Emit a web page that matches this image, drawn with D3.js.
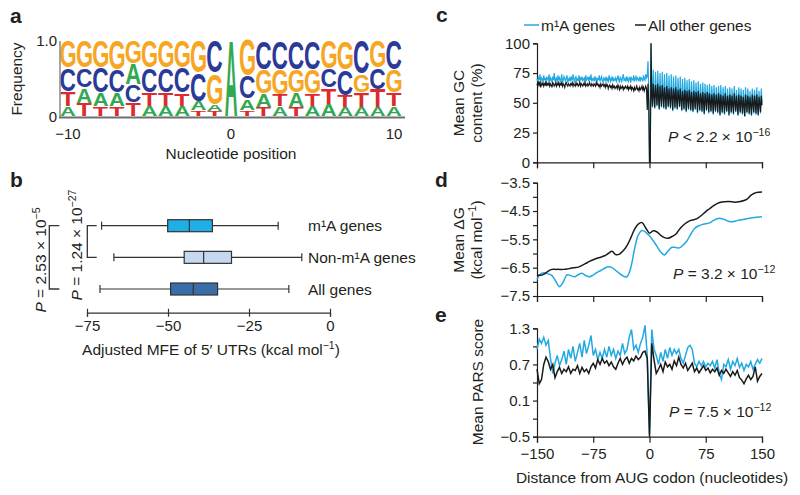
<!DOCTYPE html>
<html><head><meta charset="utf-8">
<script src="https://cdn.jsdelivr.net/npm/d3@7"></script>
<style>body{margin:0;background:#fff}svg{display:block;font-family:'Liberation Sans',Arial,Helvetica,sans-serif}</style>
</head><body><svg id="chart" width="800" height="495"></svg>
<script>
// ---------- DATA ----------
// Panel a: sequence logo, frequency of each base at positions -10..10
const logoPos = d3.range(-10, 11);
const logoA = [.13,.20,.18,.18,.28,.14,.14,.14,.12,.09,1,.15,.18,.13,.19,.14,.16,.12,.12,.12,.13];
const logoC = [.31,.26,.33,.30,.24,.32,.32,.33,.38,.43,0,.30,.38,.38,.38,.38,.25,.34,.44,.28,.39];
const logoG = [.36,.36,.36,.39,.30,.36,.36,.36,.42,.41,0,.47,.32,.33,.31,.32,.37,.38,.24,.36,.30];
const logoT = [.20,.18,.13,.13,.18,.18,.18,.17,.08,.07,0,.08,.12,.16,.12,.16,.22,.16,.20,.24,.18];
const logoTicks = [-10, 0, 10];

// Panel b: box plots of adjusted MFE
const boxNames = ['m¹A genes', 'Non-m¹A genes', 'All genes'];
const boxMin = [-70.5, -66.7, -71.0];
const boxQ1  = [-50.1, -45.0, -49.2];
const boxMed = [-43.4, -39.0, -42.2];
const boxQ3  = [-36.3, -30.4, -34.7];
const boxMax = [-16.0, -8.7, -12.7];
const boxTicks = [-75, -50, -25, 0];

// Panel c: mean GC content, positions -150..150
const gcM1A = [
70,68,72,69,74,67,71,70,68,73,69,71,67,72,70,
69,74,68,71,70,67,72,69,75,68,70,71,67,73,69,
71,68,70,74,67,69,72,70,68,71,73,67,70,69,72,
68,71,69,74,70,67,71,72,68,70,69,73,67,71,70,
72,68,70,71,67,73,69,70,72,68,71,69,74,68,70,
69,71,68,72,70,67,71,69,73,68,70,72,69,67,71,
70,68,72,69,71,67,73,70,68,71,69,72,68,70,69,
71,68,70,73,69,67,72,70,68,71,74,69,70,68,72,
69,71,68,70,72,67,71,70,69,73,68,70,72,69,71,
70,68,72,69,71,70,68,73,70,69,74,71,72,85,60,
0,0,100,
60,46,78, 58,45,76, 59,47,77, 57,44,75, 58,46,76, 59,45,74, 57,44,75, 58,46,73, 56,45,74, 57,43,72,
58,45,73, 56,44,71, 57,46,72, 55,43,70, 56,44,71, 57,42,69, 55,44,70, 56,43,68, 54,42,69, 55,44,67,
56,41,68, 54,43,66, 55,42,67, 53,40,66, 54,43,65, 55,41,66, 53,42,64, 54,40,65, 52,42,63, 53,41,64,
54,39,65, 52,41,63, 53,40,64, 51,42,62, 52,39,63, 53,41,62, 51,40,64, 52,42,61, 50,39,63, 51,41,62,
52,40,61, 50,38,63, 51,41,62, 52,40,60, 50,39,62, 51,41,61, 52,40,63, 50,39,60, 51,41,62, 50];
const gcOther = [
66,64,67,65,68,63,66,65,67,64,66,65,68,64,66,
65,67,64,66,65,63,67,66,64,65,67,64,66,65,67,
64,66,65,67,64,66,65,63,66,67,65,64,66,65,64,
66,65,67,64,66,65,64,67,65,66,64,65,67,64,66,
65,64,66,65,67,64,65,66,64,65,67,65,64,66,65,
64,66,65,64,67,65,66,64,65,63,66,64,65,66,64,
65,63,66,64,65,62,64,65,63,64,62,65,63,64,62,
63,64,62,65,63,61,64,62,63,64,61,63,62,64,63,
62,64,61,63,62,64,61,63,62,60,63,61,62,64,61,
62,60,63,61,62,64,61,63,60,62,64,62,44,66,50,
0,0,100,
57,47,66, 56,46,65, 57,48,66, 55,45,64, 56,47,65, 57,46,63, 55,45,64, 56,47,62, 54,46,63, 55,44,62,
56,46,63, 54,45,61, 55,47,62, 53,44,60, 54,45,61, 55,43,60, 53,45,61, 54,44,59, 52,43,60, 53,45,59,
54,42,60, 52,44,58, 53,43,59, 51,41,58, 52,44,59, 53,42,58, 51,43,57, 52,41,58, 50,43,57, 51,42,58,
52,40,57, 50,42,56, 51,41,58, 49,43,56, 50,40,57, 51,42,56, 49,41,58, 50,43,56, 48,40,57, 49,42,56,
50,41,55, 48,39,57, 49,42,56, 50,41,55, 48,40,57, 49,42,56, 50,41,57, 48,40,55, 49,42,56, 48];
const posC = d3.range(-150, 151);

// Panel d: mean delta G, positions -150..150 every 5
const posD = d3.range(-150, 151, 5);
const dgM1A = [-6.91,-6.72,-6.68,-6.72,-6.78,-6.98,-7.17,-7.00,-6.75,-6.78,
-6.82,-6.75,-6.70,-6.78,-6.82,-6.76,-6.67,-6.60,-6.52,-6.47,
-6.50,-6.60,-6.70,-6.80,-6.82,-6.50,-5.85,-5.35,-5.19,-5.25,
-5.38,-5.55,-5.75,-5.95,-6.05,-5.90,-5.78,-5.79,-5.80,-5.70,
-5.55,-5.32,-5.12,-5.03,-4.98,-4.95,-4.92,-4.84,-4.77,-4.76,
-4.80,-4.86,-4.88,-4.85,-4.82,-4.80,-4.77,-4.75,-4.73,-4.71,-4.70];
const dgOther = [-6.76,-6.77,-6.72,-6.62,-6.56,-6.56,-6.56,-6.56,-6.55,-6.52,
-6.50,-6.48,-6.42,-6.35,-6.28,-6.22,-6.17,-6.13,-6.08,-6.00,
-5.92,-6.04,-6.02,-5.90,-5.72,-5.45,-5.15,-4.96,-4.91,-5.10,
-5.28,-5.20,-5.24,-5.36,-5.44,-5.46,-5.40,-5.32,-5.14,-5.00,
-4.90,-4.83,-4.80,-4.74,-4.64,-4.52,-4.42,-4.32,-4.24,-4.19,
-4.17,-4.16,-4.17,-4.19,-4.17,-4.14,-4.08,-3.95,-3.87,-3.84,-3.83];

// Panel e: mean PARS score, positions -150..150 every 3
const posE = d3.range(-150, 151, 3);
const parsM1A = [0.95,1.12,1.05,1.15,1.02,1.10,0.80,0.55,0.72,0.85,
0.68,0.78,0.92,0.70,0.95,0.80,1.00,0.75,0.90,1.05,
0.82,1.10,0.88,1.02,1.18,0.85,0.95,0.78,0.90,0.80,
0.95,0.82,1.00,0.85,0.95,0.80,0.92,0.85,1.05,0.88,
0.95,1.15,1.28,0.95,1.02,0.90,1.05,1.15,1.35,0.85,
-0.45,1.28,0.95,0.85,0.70,0.90,0.75,0.95,0.80,0.98,
0.85,0.95,0.88,0.95,0.80,0.72,0.85,0.98,1.02,0.95,
0.72,0.66,0.75,0.68,0.75,0.66,0.72,0.68,0.75,0.64,
0.78,0.55,0.45,0.70,0.66,0.78,0.62,0.75,0.68,0.80,
0.65,0.72,0.60,0.70,0.66,0.75,0.62,0.70,0.78,0.72,0.80];
const parsOther = [0.62,0.38,0.45,0.70,0.82,0.75,0.62,0.70,0.48,0.58,
0.65,0.55,0.62,0.58,0.66,0.55,0.62,0.60,0.68,0.55,
0.65,0.58,0.62,0.55,0.66,0.72,0.64,0.78,0.70,0.80,
0.72,0.76,0.68,0.74,0.66,0.62,0.72,0.80,0.70,0.78,
0.82,0.72,0.80,0.76,0.84,0.78,0.82,0.90,0.92,0.80,
-0.50,1.05,0.78,0.55,0.62,0.70,0.58,0.74,0.66,0.70,
0.62,0.76,0.68,0.82,0.70,0.64,0.72,0.60,0.66,0.72,
0.58,0.64,0.56,0.62,0.68,0.60,0.64,0.56,0.62,0.58,
0.64,0.52,0.60,0.55,0.62,0.56,0.50,0.58,0.52,0.60,
0.48,0.44,0.38,0.46,0.52,0.45,0.50,0.66,0.42,0.50,0.55];
const distTicks = [-150, -75, 0, 75, 150];

// ---------- DRAWING ----------
const svg = d3.select('#chart');
const TXT = '#231f20', FS = 15.5, BLUE = '#22a9e1', BLACK = '#1a1a1a';
const FONT = "'Liberation Sans', Arial, sans-serif";

function rich(g, x, y, parts, o = {}) {
  const fs = o.fs || FS;
  const t = g.append('text').attr('x', x).attr('y', y).attr('font-size', fs)
    .attr('fill', TXT).attr('text-anchor', o.anchor || 'start');
  if (o.rotate) t.attr('transform', `rotate(-90,${x},${y})`);
  if (o.bold) t.attr('font-weight', 'bold');
  let cur = 0;
  parts.forEach(p => {
    const s = typeof p === 'string' ? p : p[0];
    const k = typeof p === 'string' ? '' : p[1];
    const sup = k.includes('s');
    const target = sup ? -0.38 * fs : 0;
    const ts = t.append('tspan').text(s);
    if (target - cur !== 0) ts.attr('dy', target - cur);
    cur = target;
    if (sup) ts.attr('font-size', fs * 0.68);
    if (k.includes('i')) ts.attr('font-style', 'italic');
  });
  return t;
}

// panel letters
[['a', 10, 23], ['b', 10, 187], ['c', 436, 22], ['d', 435, 187], ['e', 435, 322]].forEach(([l, x, y]) =>
  rich(svg, x, y, [l], { fs: 21, bold: true }));

// ---- Panel a: sequence logo ----
const gA = svg.append('g');
const xA = d3.scaleLinear().domain([-10, 10]).range([68, 394]);
const yA = d3.scaleLinear().domain([0, 1]).range([117, 41]);
const logoColors = { A: '#33a852', C: '#2b3a97', G: '#f6a623', T: '#dc2a2e' };
const ctx = document.createElement('canvas').getContext('2d');
ctx.font = "bold 100px 'Liberation Sans'";
function inkBox(l) {
  const m = ctx.measureText(l);
  return { l: m.actualBoundingBoxLeft, r: m.actualBoundingBoxRight, a: m.actualBoundingBoxAscent, d: m.actualBoundingBoxDescent };
}
logoPos.forEach((p, i) => {
  const letters = [['A', logoA[i]], ['C', logoC[i]], ['G', logoG[i]], ['T', logoT[i]]]
    .filter(d => d[1] > 0).sort((a, b) => a[1] - b[1]);
  let acc = 0;
  letters.forEach(([L, f]) => {
    const yTop = yA(acc + f), yBot = yA(acc);
    acc += f;
    const h = Math.max(0.5, yBot - yTop - 0.8);
    const w = f > 0.9 ? 12 : 15;
    const x0 = xA(p) - w / 2;
    const b = inkBox(L);
    const sx = w / (b.l + b.r), sy = h / (b.a + b.d);
    gA.append('text').text(L).attr('font-family', "'Liberation Sans'").attr('font-weight', 'bold')
      .attr('font-size', 100).attr('fill', logoColors[L])
      .attr('transform', `translate(${x0},${yTop}) scale(${sx},${sy}) translate(${b.l},${b.a})`);
  });
});
gA.append('line').attr('x1', 60).attr('x2', 60).attr('y1', yA(1)).attr('y2', yA(0))
  .attr('stroke', '#8a8a8a').attr('stroke-width', 1.5);
gA.append('line').attr('x1', 59).attr('x2', 405).attr('y1', yA(0) + 0.5).attr('y2', yA(0) + 0.5)
  .attr('stroke', '#6f6f6f').attr('stroke-width', 2);
rich(gA, 57, yA(1) + 5, ['1.0'], { anchor: 'end', fs: 15 });
rich(gA, 57, yA(0) + 5, ['0'], { anchor: 'end', fs: 15 });
logoTicks.forEach(t => rich(gA, xA(t), 139, [t < 0 ? '−' + Math.abs(t) : String(t)], { anchor: 'middle', fs: 15 }));
rich(gA, 231, 159, ['Nucleotide position'], { anchor: 'middle' });
rich(gA, 22, 79, ['Frequency'], { anchor: 'middle', rotate: true });

// ---- Panel b: box plots ----
const gB = svg.append('g');
const xB = d3.scaleLinear().domain([-75, 0]).range([87, 330]);
const yB = d3.scalePoint().domain(boxNames).range([225.7, 289]);
const boxFill = ['#1eafe6', '#c4d8ef', '#3b6ea8'];
const bh = 12;
boxNames.forEach((n, i) => {
  const cy = yB(n);
  gB.append('line').attr('x1', xB(boxMin[i])).attr('x2', xB(boxMax[i])).attr('y1', cy).attr('y2', cy)
    .attr('stroke', '#333').attr('stroke-width', 1.2);
  [boxMin[i], boxMax[i]].forEach(v => gB.append('line').attr('x1', xB(v)).attr('x2', xB(v))
    .attr('y1', cy - 4).attr('y2', cy + 4).attr('stroke', '#333').attr('stroke-width', 1.2));
  gB.append('rect').attr('x', xB(boxQ1[i])).attr('y', cy - bh / 2).attr('width', xB(boxQ3[i]) - xB(boxQ1[i]))
    .attr('height', bh).attr('fill', boxFill[i]).attr('stroke', '#333').attr('stroke-width', 1.2);
  gB.append('line').attr('x1', xB(boxMed[i])).attr('x2', xB(boxMed[i])).attr('y1', cy - bh / 2).attr('y2', cy + bh / 2)
    .attr('stroke', '#333').attr('stroke-width', 1.2);
  rich(gB, 308, cy + 5.5, [n]);
});
const axB = gB.append('g').attr('transform', 'translate(0,312.7)')
  .call(d3.axisBottom(xB).tickValues(boxTicks).tickSizeOuter(0).tickSize(4).tickPadding(4));
axB.attr('font-family', null).attr('font-size', 15);
axB.selectAll('path').attr('stroke', '#333').attr('stroke-width', 1.2);
axB.selectAll('line').attr('y1', -4).attr('y2', 4).attr('stroke', '#333').attr('stroke-width', 1.2);
axB.selectAll('text').attr('fill', TXT);
rich(gB, 211, 355, ['Adjusted MFE of 5′ UTRs (kcal mol', ['−1', 's'], ')'], { anchor: 'middle' });
// brackets
const y0b = yB(boxNames[0]), y1b = yB(boxNames[1]), y2b = yB(boxNames[2]);
gB.append('path').attr('d', `M96.7,${y0b}H87.3V${y1b}H96.7`).attr('fill', 'none').attr('stroke', '#333').attr('stroke-width', 1.3);
gB.append('path').attr('d', `M59.3,${y0b}H49.3V${y2b}H59.3`).attr('fill', 'none').attr('stroke', '#333').attr('stroke-width', 1.3);
rich(gB, 82, 245, [['P', 'i'], ' = 1.24 × 10', ['−27', 's']], { anchor: 'middle', rotate: true });
rich(gB, 45.5, 260, [['P', 'i'], ' = 2.53 × 10', ['−5', 's']], { anchor: 'middle', rotate: true });

// ---- Right panels ----
const xR = d3.scaleLinear().domain([-150, 150]).range([537, 762]);
function styleAxis(a) {
  a.attr('font-family', null).attr('font-size', 15);
  a.selectAll('path,line').attr('stroke', '#231f20').attr('stroke-width', 1.2);
  a.selectAll('text').attr('fill', TXT);
}
function drawPanel(y, yTicks, fmt, showXLabels) {
  const g = svg.append('g');
  const ax = g.append('g').attr('transform', `translate(537,0)`)
    .call(d3.axisLeft(y).tickValues(yTicks).tickFormat(fmt).tickSizeOuter(0).tickSize(4).tickPadding(3));
  styleAxis(ax);
  const bx = g.append('g').attr('transform', `translate(0,${y.range()[0]})`)
    .call(d3.axisBottom(xR).tickValues(distTicks).tickSizeOuter(0).tickSize(6).tickPadding(6)
      .tickFormat(showXLabels ? (d => d3.format('')(d)) : ''));
  styleAxis(bx);
  return g;
}
function drawLines(g, y, xs, a, b, curve, w) {
  const line = d3.line().x((d, i) => xR(xs[i])).y(d => y(d)).curve(curve);
  g.append('path').datum(a).attr('d', line).attr('fill', 'none').attr('stroke', BLUE).attr('stroke-width', w);
  g.append('path').datum(b).attr('d', line).attr('fill', 'none').attr('stroke', BLACK).attr('stroke-width', w);
}

// Panel c
const yC = d3.scaleLinear().domain([0, 100]).range([162.3, 43.3]);
const gC = drawPanel(yC, [0, 25, 50, 75, 100], d3.format('d'), false);
drawLines(gC, yC, posC, gcM1A, gcOther, d3.curveLinear, 1.2);
rich(gC, 464, 103, ['Mean GC'], { anchor: 'middle', rotate: true });
rich(gC, 482, 103, ['content (%)'], { anchor: 'middle', rotate: true });
rich(gC, 668, 142, [['P', 'i'], ' < 2.2 × 10', ['−16', 's']]);
// legend
svg.append('line').attr('x1', 524).attr('x2', 539).attr('y1', 25).attr('y2', 25).attr('stroke', BLUE).attr('stroke-width', 1.5);
rich(svg, 541, 30.5, ['m¹A genes']);
svg.append('line').attr('x1', 635).attr('x2', 646).attr('y1', 25).attr('y2', 25).attr('stroke', BLACK).attr('stroke-width', 1.5);
rich(svg, 648, 30.5, ['All other genes']);

// Panel d
const yD = d3.scaleLinear().domain([-7.5, -3.5]).range([296, 182.7]);
const dFmt = d => (Math.abs(d * 2) % 2 === 1 && Math.round(d * 10) % 10 !== 0 && [-7.5, -6.5, -5.5, -4.5, -3.5].includes(d)) ? d3.format('.1f')(d) : '';
const gD = drawPanel(yD, [-7.5, -7, -6.5, -6, -5.5, -5, -4.5, -4, -3.5], dFmt, false);
drawLines(gD, yD, posD, dgM1A, dgOther, d3.curveCatmullRom, 1.5);
rich(gD, 464, 240, ['Mean ΔG'], { anchor: 'middle', rotate: true });
rich(gD, 482, 240, ['(kcal mol', ['−1', 's'], ')'], { anchor: 'middle', rotate: true });
rich(gD, 673, 279, [['P', 'i'], ' = 3.2 × 10', ['−12', 's']]);

// Panel e
const yE = d3.scaleLinear().domain([-0.5, 1.3]).range([436.7, 328.3]);
const eLab = [-0.5, 0.1, 0.7, 1.3];
const eFmt = d => eLab.some(v => Math.abs(v - d) < 1e-6) ? d3.format('.1f')(d) : '';
const gE = drawPanel(yE, [-0.5, -0.2, 0.1, 0.4, 0.7, 1.0, 1.3], eFmt, true);
drawLines(gE, yE, posE, parsM1A, parsOther, d3.curveLinear, 1.5);
rich(gE, 483, 382, ['Mean PARS score'], { anchor: 'middle', rotate: true });
rich(gE, 669, 417, [['P', 'i'], ' = 7.5 × 10', ['−12', 's']]);
rich(gE, 652, 483, ['Distance from AUG codon (nucleotides)'], { anchor: 'middle' });
</script></body></html>
